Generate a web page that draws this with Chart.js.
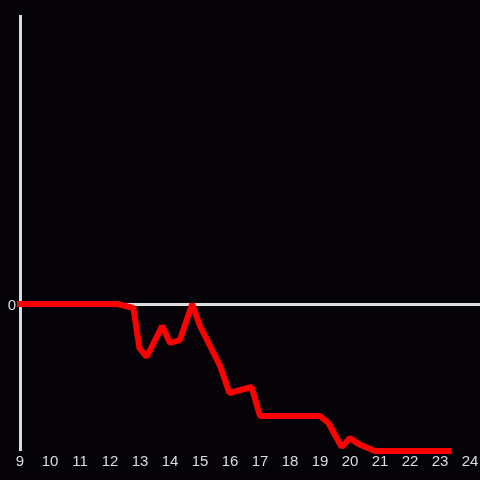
<!DOCTYPE html>
<html>
<head>
<meta charset="utf-8">
<script src="https://cdn.jsdelivr.net/npm/chart.js@4/dist/chart.umd.min.js"></script>
<style>
  html, body { margin: 0; padding: 0; background: #050308; }
  #wrap { width: 480px; height: 480px; }
</style>
</head>
<body>
<div id="wrap"><canvas id="c" width="480" height="480"></canvas></div>
<script>
const hours = [9, 12.25, 12.78, 12.98, 13.22, 13.74, 14.0, 14.33, 14.74, 15.0, 15.67, 15.98, 16.72, 17.0, 19.0, 19.28, 19.72, 20.0, 20.28, 20.83, 23.27];
const values = [0, 0, -0.04, -0.44, -0.53, -0.22, -0.39, -0.36, 0, -0.22, -0.62, -0.89, -0.83, -1.12, -1.12, -1.19, -1.43, -1.34, -1.40, -1.47, -1.47];
const xTicks = [9, 10, 11, 12, 13, 14, 15, 16, 17, 18, 19, 20, 21, 22, 23, 24];
const yTicks = [0];

const fg = '#dcdcdc';
const bgPlugin = {
  id: 'bg',
  beforeDraw(chart) {
    const ctx = chart.ctx;
    ctx.save();
    ctx.fillStyle = '#050308';
    ctx.fillRect(0, 0, chart.width, chart.height);
    ctx.restore();
  }
};

new Chart(document.getElementById('c'), {
  type: 'line',
  data: {
    datasets: [{
      data: hours.map((h, i) => ({ x: h, y: values[i] })),
      borderColor: '#ff0000',
      borderWidth: 6,
      borderCapStyle: 'square',
      borderJoinStyle: 'bevel',
      pointRadius: 0,
      tension: 0,
      fill: false,
      clip: false
    }]
  },
  options: {
    responsive: false,
    animation: false,
    layout: { padding: { top: 16, right: 0, left: 0, bottom: 0 } },
    plugins: { legend: { display: false }, tooltip: { enabled: false } },
    scales: {
      x: {
        type: 'linear',
        min: 9,
        max: 24.333,
        afterBuildTicks(scale) { scale.ticks = xTicks.map(v => ({ value: v })); },
        afterFit(scale) { scale.height = 31; scale.paddingRight = 0; scale.paddingLeft = 0; },
        grid: { display: false, drawTicks: false },
        border: { display: false },
        ticks: { color: fg, font: { size: 15 }, padding: 4, maxRotation: 0, autoSkip: false }
      },
      y: {
        type: 'linear',
        min: -1.45,
        max: 2.88,
        afterBuildTicks(scale) { scale.ticks = yTicks.map(v => ({ value: v })); },
        afterFit(scale) { scale.width = 20; scale.paddingTop = 0; scale.paddingBottom = 0; },
        grid: {
          drawTicks: false,
          color: ctx => (ctx.tick && ctx.tick.value === 0) ? fg : 'rgba(0,0,0,0)',
          lineWidth: 3
        },
        border: { display: true, color: fg, width: 3 },
        ticks: { color: fg, font: { size: 15 }, padding: 4, labelOffset: 1.5 }
      }
    }
  },
  plugins: [bgPlugin]
});
</script>
</body>
</html>
